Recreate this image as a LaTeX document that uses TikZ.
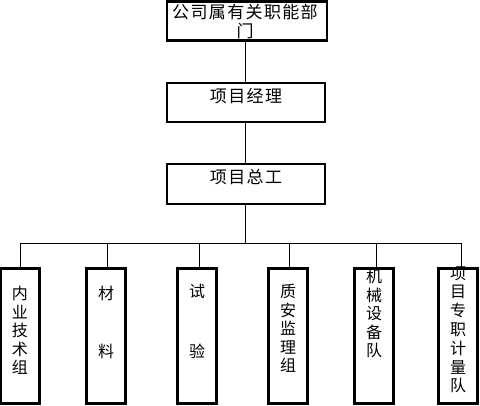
\documentclass[tikz,border=0pt]{standalone}
\usepackage{fontspec}
\newfontfamily\cjk{Noto Sans CJK SC}
\newfontfamily\cjkw[LetterSpace=8]{Noto Sans CJK SC}
\begin{document}
\begin{tikzpicture}[x=1pt,y=-1pt,
  box/.style={draw=black,line width=2.6pt,rectangle,inner sep=0pt},
  lbl/.style={font=\cjk\fontsize{16}{18.5}\selectfont,align=center,inner sep=0pt,anchor=north},
  toplbl/.style={font=\cjkw\fontsize{17}{19}\selectfont,align=center,inner sep=0pt,anchor=north},
  conn/.style={draw=black,line width=0.9pt}]
\useasboundingbox (0,0) rectangle (480,405);
% top row boxes
\node[box,minimum width=160pt,minimum height=39pt] (b0) at (247,21) {};
\node[box,minimum width=158pt,minimum height=39pt] (b1) at (246,102.5) {};
\node[box,minimum width=158pt,minimum height=40pt] (b2) at (246,184) {};
\node[toplbl] (t0) at (245,4) {公司属有关职能部\\门};
\node[toplbl] (t1) at (246,88) {项目经理};
\node[toplbl] (t2) at (246,169) {项目总工};
% bottom boxes
\foreach \n/\x in {c1/20,c2/106,c3/197,c4/288,c5/374,c6/458}{
  \node[box,minimum width=39pt,minimum height=135pt] (\n) at (\x,336) {};
}
\node[lbl] (d1) at (c1.north) [yshift=-19pt] {内\\业\\技\\术\\组};
\node[lbl] (d2) at (c2.north) [yshift=-19pt] {材\\[39pt]料};
\node[lbl] (d3) at (c3.north) [yshift=-17pt] {试\\[41pt]验};
\node[lbl] (d4) at (c4.north) [yshift=-17pt] {质\\安\\监\\理\\组};
\node[lbl] (d5) at (c5.north) [yshift=-2pt] {机\\械\\设\\备\\队};
\node[lbl,font=\cjk\fontsize{16}{18.8}\selectfont] (d6) at (c6.north) [yshift=1pt] {项\\目\\专\\职\\计\\量\\队};
% connectors
\coordinate (bus) at (245,243);
\draw[conn] (b0.south -| bus) -- (b1.north -| bus);
\draw[conn] (b1.south -| bus) -- (b2.north -| bus);
\draw[conn] (b2.south -| bus) -- (bus);
\coordinate (busL) at (20,243);
\coordinate (busR) at (461,243);
\draw[conn] (busL) -- (busR);
\foreach \n/\x in {c1/20,c2/107,c3/199,c4/289,c5/376,c6/461}{
  \draw[conn] (\x,243) -- (\n.north -| \x,0);
}
\end{tikzpicture}
\end{document}
